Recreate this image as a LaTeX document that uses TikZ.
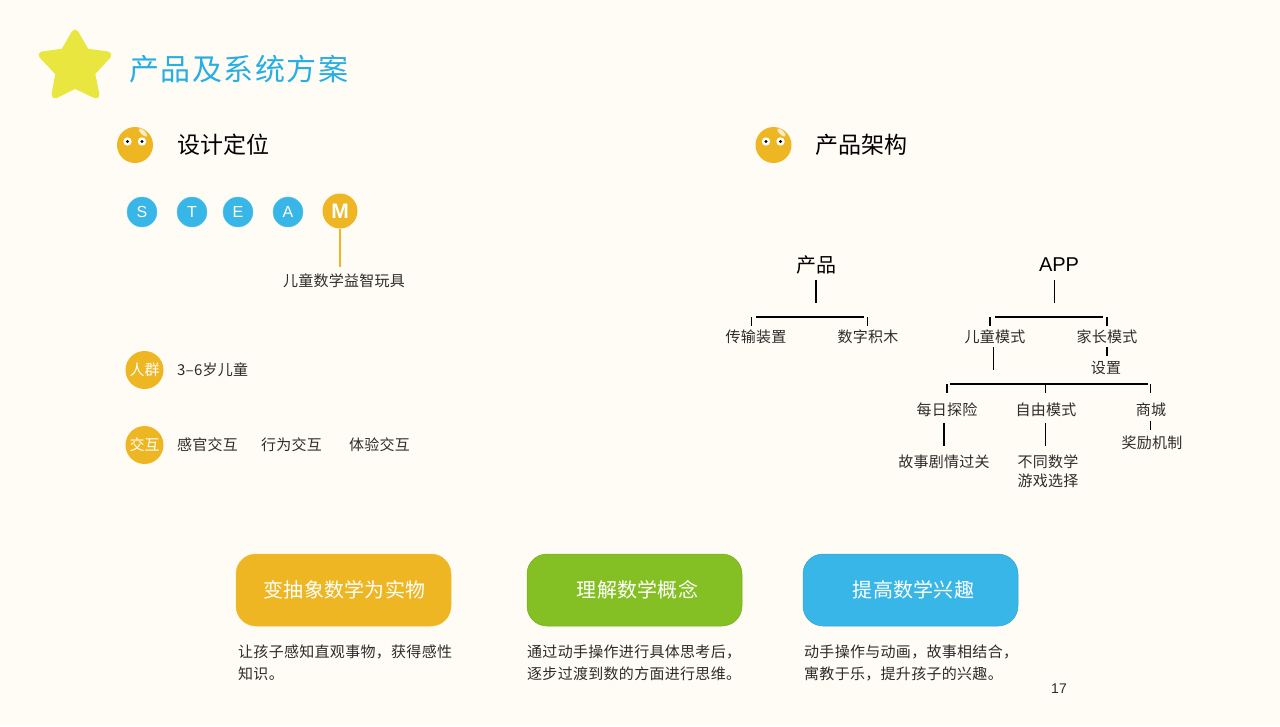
\documentclass[tikz,border=0pt]{standalone}
\usepackage{fontspec}
\setmainfont{Noto Sans CJK SC}
\newfontfamily\latinfont{Liberation Sans}
\definecolor{bgc}{HTML}{FFFCF6}
\definecolor{bluec}{HTML}{38B6E8}
\definecolor{goldc}{HTML}{EFB623}
\definecolor{greenc}{HTML}{84C024}
\definecolor{starc}{HTML}{E8E63F}
\definecolor{titlec}{HTML}{27AEE4}
\definecolor{inkc}{HTML}{2E2C2A}
\newcommand{\sz}[2]{\fontsize{#1}{#2}\selectfont}
\tikzset{
  x=1pt,y=-1pt,
  txt/.style={inner sep=0pt,text=inkc,font=\sz{15}{19}\addfontfeature{LetterSpace=1.5}},
  ltxt/.style={txt,anchor=west},
  head/.style={inner sep=0pt,anchor=west,text=black,font=\sz{23}{28}},
  big/.style={inner sep=0pt,text=black,font=\sz{20}{24}},
  desc/.style={inner sep=0pt,anchor=north west,align=left,text=inkc,font=\sz{15}{22}\addfontfeature{LetterSpace=2}},
  ball/.style={circle,inner sep=0pt,fill=bluec,draw=bluec!80!white,line width=.4pt,minimum size=30pt,text=white,font=\latinfont\sz{16}{18}},
  gball/.style={circle,inner sep=0pt,fill=goldc,minimum size=38pt,text=white,font=\sz{15}{18}},
  card/.style={rounded corners=20pt,minimum width=215pt,minimum height=72pt,inner sep=0pt,text=white,line width=.5pt,font=\sz{20}{24}\addfontfeature{LetterSpace=1.5}},
  tree/.style={line width=1.5pt,draw=black},
  face/.pic={
    \fill[goldc] (0,0) circle[radius=18];
    \fill[white] (-7.5,-3.5) circle[radius=4.2] (7,-3.5) circle[radius=4.2];
    \fill[black] (-7.5,-3.5) circle[radius=1.6] (7,-3.5) circle[radius=1.6];
    \fill[white,opacity=.75] (8,-12.5) circle[x radius=5.5,y radius=2.2,rotate=-45];
  }
}
\begin{document}
\begin{tikzpicture}
\useasboundingbox (0,0) rectangle (1280,726);
\fill[bgc] (0,0) rectangle (1280,726);
% star
\filldraw[fill=starc,draw=starc,line width=7pt,line join=round] (75,33) -- (86,52) -- (108,55) -- (91.5,73) -- (96,95) -- (75,85) -- (55,95) -- (59,73) -- (42,55) -- (64,52) -- cycle;
\node[inner sep=0pt,anchor=west,text=titlec,font=\sz{30}{34}\addfontfeature{LetterSpace=5}] (title) at (129,69) {产品及系统方案};
% section headings
\pic at (135,145) {face};
\node[head] (h1) at (177.5,145) {设计定位};
\pic at (773.5,145) {face};
\node[head] (h2) at (815.5,145) {产品架构};
% STEAM
\node[ball] (s) at (142,212) {S};
\node[ball] (t) at (192,212) {T};
\node[ball] (e) at (238,212) {E};
\node[ball] (a) at (288,212) {A};
\node[ball,fill=goldc,draw=none,minimum size=35pt,font=\latinfont\bfseries\sz{21}{24}] (m) at (340,211) {M};
\node[txt] (toy) at (344,281) {儿童数学益智玩具};
\coordinate (mend) at (340,267);
\draw[goldc,line width=1.5pt] (m.south) -- (mend);
% people
\node[gball] (g1) at (144.5,370) {人群};
\node[ltxt] (g1t) at (177,370) {3–6岁儿童};
\node[gball] (g2) at (144.5,445) {交互};
\node[ltxt] (i1) at (177,445) {感官交互};
\node[ltxt] (i2) at (261,445) {行为交互};
\node[ltxt] (i3) at (349,445) {体验交互};
% tree nodes
\node[big] (prod) at (816,265) {产品};
\node[big,font=\latinfont\sz{20}{24}] (app) at (1059,265) {APP};
\node[txt] (n1) at (756,337) {传输装置};
\node[txt] (n2) at (868,337) {数字积木};
\node[txt] (n3) at (995,337) {儿童模式};
\node[txt] (n4) at (1107,337) {家长模式};
\node[txt] (n5) at (1106,368) {设置};
\node[txt] (n6) at (947,410) {每日探险};
\node[txt] (n7) at (1046,410) {自由模式};
\node[txt] (n8) at (1151,410) {商城};
\node[txt] (n9) at (1152,443) {奖励机制};
\node[txt] (n10) at (944,462) {故事剧情过关};
\node[txt,align=center] (n11) at (1048,471.5) {不同数学\\游戏选择};
% tree lines
\foreach \nm/\xa/\ya/\xb/\yb in {
  pa/816/280/816/303, pb/755.5/317/864/317, pc/751.5/317/751.5/326, pd/867.5/317/867.5/326,
  aa/1054.5/280/1054.5/303, ab/995/317/1103/317, ac/990/317/990/326, ad/1107/317/1107/326,
  ca/993.5/347/993.5/370, pe/1107/347/1107/356, cb/950/384/1148/384, cc/947/384/947/393,
  cd/1045.5/384/1045.5/393, ce/1150.5/384/1150.5/393, da/944/423/944/446, db/1045.5/423/1045.5/446,
  dc/1150.5/421/1150.5/430}{
  \coordinate (\nm1) at (\xa,\ya);
  \coordinate (\nm2) at (\xb,\yb);
  \draw[tree] (\nm1) -- (\nm2);
}
% cards
\node[card,fill=goldc,draw=goldc!90!white] (c1) at (343.5,590) {\hspace*{2pt}变抽象数学为实物};
\node[card,fill=greenc,draw=greenc!90!black] (c2) at (634.5,590) {\hspace*{6pt}理解数学概念};
\node[card,fill=bluec,draw=bluec!90!black] (c3) at (910.5,590) {\hspace*{6pt}提高数学兴趣};
\node[desc] (d1) at (238,645) {让孩子感知直观事物，获得感性\\知识。};
\node[desc] (d2) at (527,645) {通过动手操作进行具体思考后，\\逐步过渡到数的方面进行思维。};
\node[desc] (d3) at (804,645) {动手操作与动画，故事相结合，\\寓教于乐，提升孩子的兴趣。};
\node[inner sep=0pt,text=inkc,font=\latinfont\sz{14}{16}] (pg) at (1059,689) {17};
\end{tikzpicture}
\end{document}
